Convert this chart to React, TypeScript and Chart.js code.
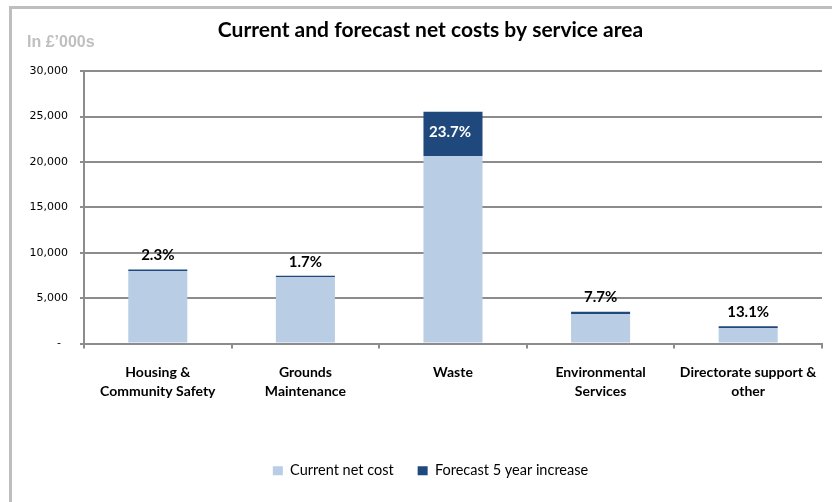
import React, { useEffect, useRef } from "react";
import { Chart, registerables } from "chart.js";

Chart.register(...registerables);

const categories: string[][] = [
  ["Housing &", "Community Safety"],
  ["Grounds", "Maintenance"],
  ["Waste"],
  ["Environmental", "Services"],
  ["Directorate support &", "other"],
];
const currentNetCost: number[] = [7980, 7330, 20650, 3260, 1690];
const forecastIncrease: number[] = [185, 125, 4895, 250, 220];
const increaseLabels: string[] = ["2.3%", "1.7%", "23.7%", "7.7%", "13.1%"];
const seriesNames: string[] = ["Current net cost", "Forecast 5 year increase"];
const yTicks: number[] = [0, 5000, 10000, 15000, 20000, 25000, 30000];

const LIGHT = "#B9CDE5";
const DARK = "#1F497D";
const GRID = "#8C8C8C";

const labelPlugin = {
  id: "barLabels",
  afterLayout(chart: any) {
    // let the y tick labels use the space left of the axis box
    const y = chart.scales.y;
    if (y) y.left = 0;
  },
  afterDatasetsDraw(chart: any) {
    const ctx = chart.ctx;
    const meta = chart.getDatasetMeta(1);
    ctx.save();
    ctx.font = "bold 15px Lato, 'Noto Sans', sans-serif";
    ctx.textAlign = "center";
    ctx.textBaseline = "middle";
    meta.data.forEach((bar: any, i: number) => {
      const top = bar.y;
      const bottom = bar.base;
      const h = bottom - top;
      if (h > 30) {
        ctx.fillStyle = "#FFFFFF";
        ctx.fillText(increaseLabels[i], bar.x - 3, top + h / 2 - 2);
      } else {
        ctx.fillStyle = "#000000";
        ctx.fillText(increaseLabels[i], bar.x, top - 14);
      }
    });
    ctx.restore();
  },
  afterDraw(chart: any) {
    const ctx = chart.ctx;
    ctx.save();
    ctx.font = "bold 16px 'Liberation Sans', Arial, sans-serif";
    ctx.fillStyle = "#BFBFBF";
    ctx.textAlign = "left";
    ctx.textBaseline = "middle";
    ctx.fillText("In £’000s", 27, 43);
    ctx.restore();
  },
};

function ChartCanvas() {
  const ref = useRef<HTMLCanvasElement | null>(null);
  useEffect(() => {
    if (!ref.current) return;
    const chart = new Chart(ref.current, {
      type: "bar",
      data: {
        labels: categories,
        datasets: [
          {
            label: seriesNames[0],
            data: currentNetCost,
            backgroundColor: LIGHT,
            borderWidth: 0,
            barPercentage: 0.4,
            categoryPercentage: 1,
          },
          {
            label: seriesNames[1],
            data: forecastIncrease,
            backgroundColor: DARK,
            borderWidth: 0,
            barPercentage: 0.4,
            categoryPercentage: 1,
          },
        ],
      },
      plugins: [labelPlugin],
      options: {
        animation: false,
        responsive: false,
        devicePixelRatio: 1,
        layout: { padding: { left: 34, right: 5, top: 0, bottom: 14 } },
        plugins: {
          title: {
            display: true,
            text: "Current and forecast net costs by service area",
            color: "#000",
            font: { family: "Lato, 'Noto Sans', sans-serif", size: 21, weight: "bold", lineHeight: 1.2 },
            padding: { top: 18, bottom: 28 },
          },
          legend: {
            position: "bottom",
            labels: {
              boxWidth: 10,
              boxHeight: 9,
              padding: 24,
              color: "#000",
              font: { family: "Lato, 'Noto Sans', sans-serif", size: 14.5 },
            },
          },
          tooltip: { enabled: false },
        },
        scales: {
          x: {
            stacked: true,
            grid: {
              offset: true,
              drawOnChartArea: false,
              drawTicks: true,
              tickLength: 5,
              color: GRID,
              lineWidth: 2,
            },
            border: { color: GRID, width: 2 },
            ticks: {
              color: "#000",
              padding: 15,
              maxRotation: 0,
              autoSkip: false,
              font: { family: "Lato, 'Noto Sans', sans-serif", size: 14, weight: "bold", lineHeight: 1.35 },
            },
            afterFit(scale: any) {
              scale.height = 96;
            },
          },
          y: {
            stacked: true,
            min: 0,
            max: 30000,
            afterBuildTicks(scale: any) {
              scale.ticks = yTicks.map((v) => ({ value: v }));
            },
            grid: { color: GRID, lineWidth: 2, tickLength: 4 },
            border: { color: GRID, width: 2 },
            ticks: {
              color: "#000",
              padding: 12,
              font: { family: "'DejaVu Sans', Verdana, sans-serif", size: 11 },
              callback: (v: any) => (Number(v) === 0 ? "-  " : Number(v).toLocaleString("en-GB")),
            },
            afterFit(scale: any) {
              scale.width = 50;
            },
          },
        },
      },
    });
    return () => chart.destroy();
  }, []);
  return <canvas ref={ref} width={832} height={502} style={{ display: "block" }} />;
}

export default function App() {
  return (
    <div
      style={{
        position: "absolute",
        left: 0,
        top: 0,
        width: 832,
        height: 502,
        overflow: "hidden",
        background: "#fff",
      }}
    >
      <div
        style={{
          position: "absolute",
          left: 9,
          top: 6,
          width: 840,
          height: 520,
          border: "3px solid #BEBEBE",
          boxSizing: "border-box",
        }}
      />
      <div style={{ position: "absolute", left: 0, top: 0 }}>
        <ChartCanvas />
      </div>
    </div>
  );
}
